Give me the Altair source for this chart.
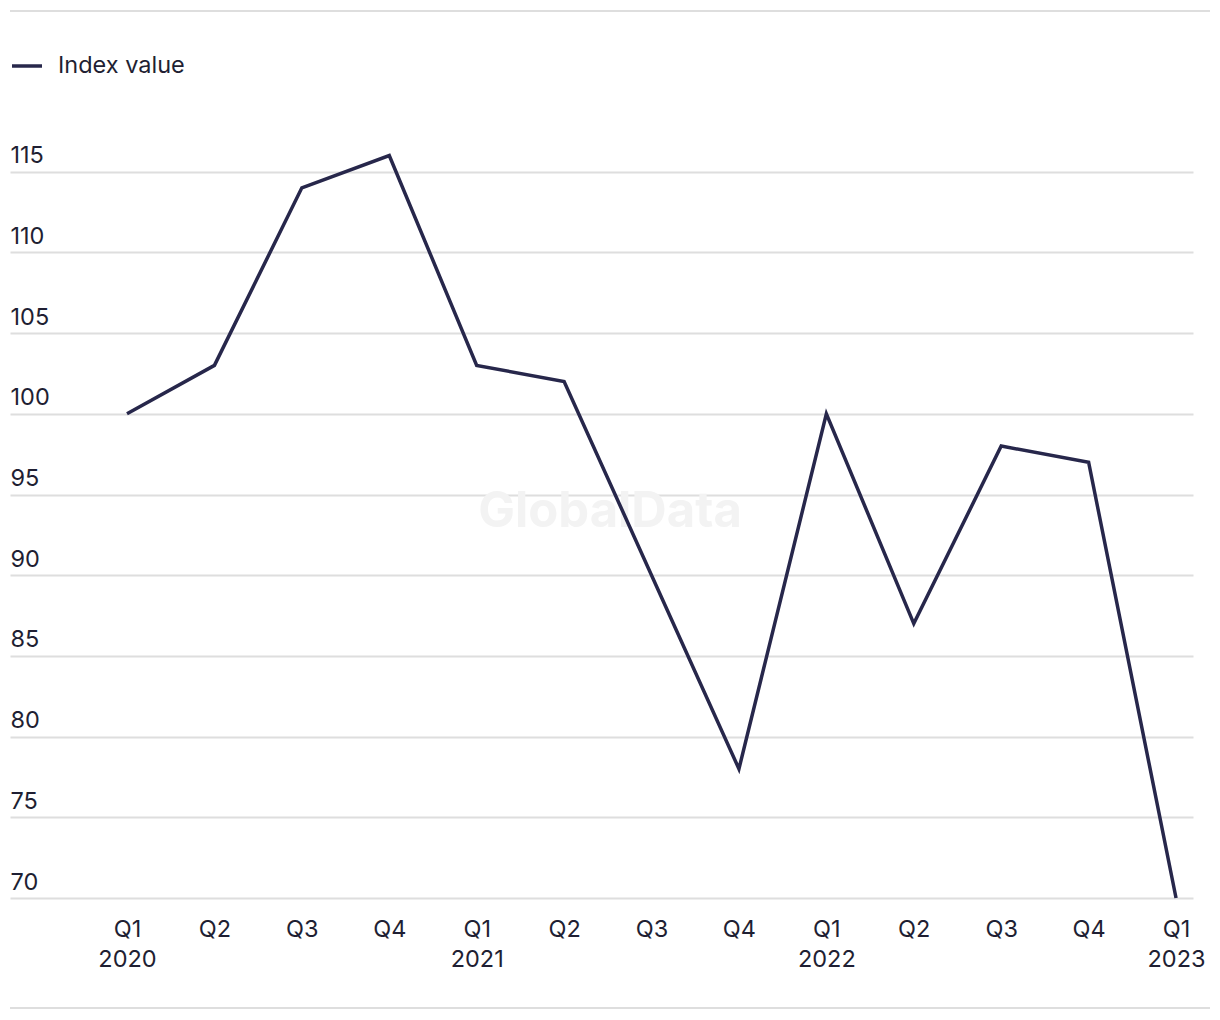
import json
import altair as alt
import pandas as pd

quarters = ["Q1 2020", "Q2 2020", "Q3 2020", "Q4 2020",
            "Q1 2021", "Q2 2021", "Q3 2021", "Q4 2021",
            "Q1 2022", "Q2 2022", "Q3 2022", "Q4 2022",
            "Q1 2023"]
index_values = [100, 103, 114, 116, 103, 102, 90, 78, 100, 87, 98, 97, 70]
series_name = "Index value"
y_ticks = [70, 75, 80, 85, 90, 95, 100, 105, 110, 115]

positions = list(range(len(quarters)))
df = pd.DataFrame({"pos": positions, "quarter": quarters,
                   "value": index_values, "series": series_name})

# x tick labels: "Q1" quarters carry the year on a second line
tick_labels = [q.split(" ") if q.startswith("Q1") else q.split(" ")[0] for q in quarters]
label_expr = json.dumps(tick_labels) + "[datum.value]"

FONT = "Inter"
FS = 23.5
LINE = "#27274b"
TEXT = "#1f1f33"
GRID = "#dedede"

line = alt.Chart(df).mark_line(strokeWidth=3.5, clip=False).encode(
    x=alt.X("pos:Q",
            scale=alt.Scale(domain=[-1.3384, 12.194], nice=False, zero=False),
            axis=alt.Axis(title=None, domain=False, ticks=False, grid=False,
                          values=positions, labelExpr=label_expr, labelFont=FONT,
                          labelFontSize=FS, labelColor=TEXT, labelPadding=19,
                          labelLineHeight=30, labelBaseline="top", labelFlush=False,
                          labelOverlap=False)),
    y=alt.Y("value:Q",
            scale=alt.Scale(domain=[70, 120], nice=False, zero=False),
            axis=alt.Axis(title=None, domain=False, ticks=False, values=y_ticks,
                          grid=True, gridColor=GRID, gridWidth=2,
                          labelAlign="left", labelPadding=0, labelBaseline="alphabetic",
                          labelOffset=-9, labelFont=FONT, labelFontSize=FS,
                          labelColor=TEXT)),
    color=alt.Color("series:N",
                    scale=alt.Scale(domain=[series_name], range=[LINE]),
                    legend=alt.Legend(title=None, orient="none", legendX=0, legendY=-42,
                                      symbolType="stroke", symbolSize=900,
                                      symbolStrokeWidth=3.5, labelFont=FONT,
                                      labelFontSize=FS, labelColor=TEXT,
                                      labelOffset=14)),
)

watermark = alt.Chart(pd.DataFrame({"t": ["GlobalData"]})).mark_text(
    font=FONT, fontSize=49, fontWeight="bold", color="#f3f3f3",
    align="center", baseline="middle"
).encode(text="t:N", x=alt.value(600), y=alt.value(421))

rules = alt.Chart(pd.DataFrame({"y": [-80, 917]})).mark_rule(
    color=GRID, strokeWidth=2
).encode(x=alt.value(0), x2=alt.value(1200), y=alt.Y("y:Q", scale=None))

chart = alt.layer(watermark, rules, line).properties(
    width=1183, height=807,
    autosize=alt.AutoSizeParams(type="none"),
    padding={"left": 2, "top": 83, "right": 17, "bottom": 115},
).configure_view(stroke=None)

chart.save("out.html", embed_options={"renderer": "svg", "actions": False})
